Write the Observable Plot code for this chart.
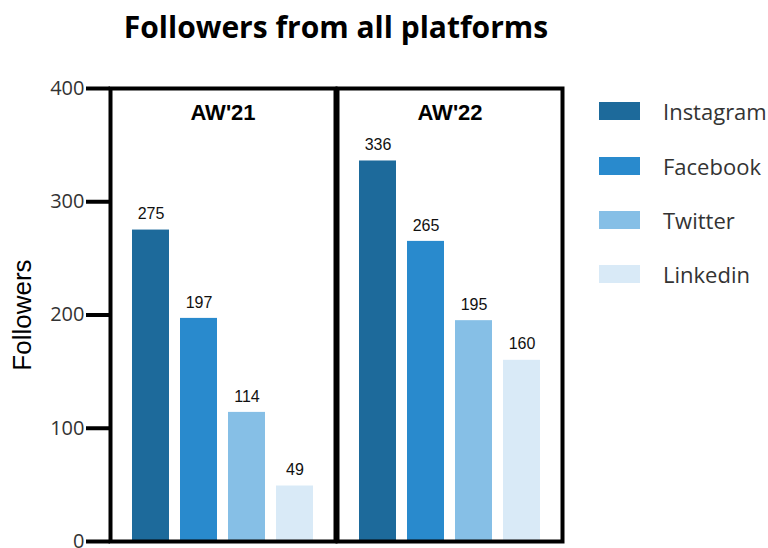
<!DOCTYPE html>
<html>
<head>
<meta charset="utf-8">
<script src="https://cdn.jsdelivr.net/npm/d3@7"></script>
<script src="https://cdn.jsdelivr.net/npm/@observablehq/plot@0.6"></script>
<style>
  html, body { margin: 0; padding: 0; background: #fff; }
  #wrap { position: relative; width: 768px; height: 548px; overflow: hidden; }
  #title { position: absolute; left: 0; top: 0; width: 672px; text-align: center;
           font-family: "Open Sans", sans-serif; font-weight: 700; font-size: 30px; line-height: 54px; color: #000; }
  #chart { position: absolute; left: 0; top: 55px; }
  #ylabel { position: absolute; left: 22px; top: 315px; transform: translate(-50%, -50%) rotate(-90deg);
            font-family: "Liberation Sans", Arial, sans-serif; font-size: 26px; color: #000; white-space: nowrap; }
  #legend { position: absolute; left: 599px; top: 0; }
  .lg-row { position: absolute; left: 0; width: 170px; height: 30px; }
  .lg-sw { position: absolute; left: 0; top: 6px; width: 41px; height: 18px; }
  .lg-tx { position: absolute; left: 64px; top: 0; font-family: "Open Sans", sans-serif; font-size: 22px; line-height: 30px; color: #333; }
</style>
</head>
<body>
<div id="wrap">
  <div id="title">Followers from all platforms</div>
  <div id="chart"></div>
  <div id="ylabel">Followers</div>
  <div id="legend"></div>
</div>
<script>
const periods = ["AW'21", "AW'22"];
const platforms = ["Instagram", "Facebook", "Twitter", "Linkedin"];
const aw21 = [275, 197, 114, 49];
const aw22 = [336, 265, 195, 160];
const colors = ["#1d6a9b", "#298acd", "#86bfe6", "#d9eaf7"];
const yTicks = [0, 100, 200, 300, 400];

const data = [];
platforms.forEach((p, i) => data.push({period: periods[0], platform: p, value: aw21[i]}));
platforms.forEach((p, i) => data.push({period: periods[1], platform: p, value: aw22[i]}));
const panelLabels = periods.map(p => ({period: p}));

const hasAxisMark = typeof Plot.axisY === "function";

const marks = [
  Plot.barY(data, {x: "platform", y: "value", fill: "platform", fx: "period"}),
  Plot.text(data, {x: "platform", y: "value", text: d => String(d.value), fx: "period",
    dy: -16, fontSize: 16, fill: "#111", fontFamily: "Liberation Sans, Arial, sans-serif"}),
  Plot.text(panelLabels, {fx: "period", text: "period", frameAnchor: "top", lineAnchor: "middle", dy: 24,
    fontSize: 22, fontWeight: "bold", fill: "#000", fontFamily: "Liberation Sans, Arial, sans-serif"}),
  Plot.frame({stroke: "#000", strokeWidth: 4})
];
if (hasAxisMark) {
  marks.push(Plot.axisY({ticks: yTicks, tickSize: 24, tickPadding: 2, strokeWidth: 4, stroke: "#000",
    fill: "#333", fontSize: 20, fontFamily: "Open Sans, sans-serif", label: null}));
}

const chart = Plot.plot({
  width: 768,
  height: 493,
  marginTop: 33,
  marginBottom: 7,
  marginLeft: 110,
  marginRight: 205,
  style: {background: "transparent", fontFamily: "Open Sans, sans-serif", fontSize: "20px"},
  fx: {domain: periods, paddingInner: 0.0088, paddingOuter: 0, axis: null},
  x: {domain: platforms, paddingInner: 0.225, paddingOuter: 0.4276, align: 0.5, axis: null},
  y: hasAxisMark ? {domain: [0, 400], axis: null} :
     {domain: [0, 400], ticks: yTicks, tickSize: 24, tickPadding: 2, label: null},
  color: {domain: platforms, range: colors},
  marks
});
document.getElementById("chart").appendChild(chart);

// make the y-axis tick strokes heavy like the reference (works for either axis implementation)
d3.select(chart).selectAll("line, path").each(function() {
  const el = this;
  let b;
  try { b = el.getBBox(); } catch (e) { return; }
  const ctm = el.getCTM();
  const x0 = ctm ? ctm.e + b.x : b.x;
  if (b.height < 1 && b.width > 5 && x0 + b.width <= 112) {
    el.setAttribute("stroke-width", 4);
    el.setAttribute("stroke", "#000");
    el.style.strokeWidth = "4px";
    el.style.stroke = "#000";
  }
});

const legend = document.getElementById("legend");
const rowTops = [96, 151, 205, 259];
platforms.forEach((p, i) => {
  const row = document.createElement("div");
  row.className = "lg-row";
  row.style.top = rowTops[i] + "px";
  const sw = document.createElement("div");
  sw.className = "lg-sw";
  sw.style.background = colors[i];
  const tx = document.createElement("div");
  tx.className = "lg-tx";
  tx.textContent = p;
  row.appendChild(sw);
  row.appendChild(tx);
  legend.appendChild(row);
});
</script>
</body>
</html>
